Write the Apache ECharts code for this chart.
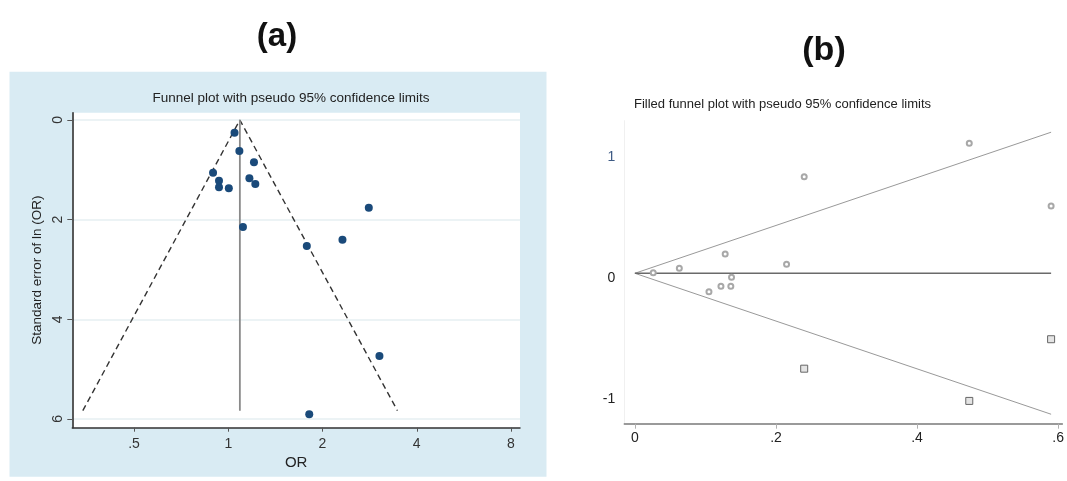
<!DOCTYPE html>
<html>
<head>
<meta charset="utf-8">
<script src="https://cdn.jsdelivr.net/npm/echarts@6/dist/echarts.min.js"></script>
<style>
html,body{margin:0;padding:0;background:#fff;}
#main{width:1067px;height:481px;}
</style>
</head>
<body>
<div id="main"></div>
<script>
// ---------- Panel (a): funnel plot (OR on log2 axis, SE of ln(OR) inverted) ----------
const aOR = [1.047, 1.085, 1.208, 0.894, 0.934, 0.934, 1.004, 1.168, 1.220, 2.811, 1.114, 1.782, 2.316, 3.040, 1.814];
const aSE = [0.255, 0.622, 0.849, 1.058, 1.218, 1.351, 1.371, 1.170, 1.284, 1.760, 2.147, 2.529, 2.402, 4.736, 5.906];
const aPooledOR = 1.089;
const aFunnelLeftOR = 0.343;
const aFunnelRightOR = 3.47;
const aFunnelBottomSE = 5.834;
const aXTicks = [0.5, 1, 2, 4, 8];
const aXTickLabels = ['.5', '1', '2', '4', '8'];
const aYTicks = [0, 2, 4, 6];

// ---------- Panel (b): filled funnel plot (SE on x, effect on y) ----------
const bObsSE  = [0.026, 0.063, 0.128, 0.137, 0.122, 0.136, 0.105, 0.215, 0.240, 0.474, 0.590];
const bObsEff = [0.046, 0.083, 0.200, 0.008, -0.066, -0.066, -0.111, 0.116, 0.838, 1.114, 0.597];
const bFillSE  = [0.240, 0.474, 0.590];
const bFillEff = [-0.746, -1.012, -0.503];
const bTheta = 0.041;
const bLineEndSE = 0.590;
const bUpperEnd = 1.205;
const bLowerEnd = -1.122;
const bXTicks = [0, 0.2, 0.4, 0.6];
const bXTickLabels = ['0', '.2', '.4', '.6'];
const bYTicks = [-1, 0, 1];

const FONT = '"Liberation Sans", Arial, sans-serif';
const near = (v, arr) => arr.findIndex(t => Math.abs(t - v) < 1e-6);

const chart = echarts.init(document.getElementById('main'), null, {renderer: 'canvas'});

const option = {
  backgroundColor: '#ffffff',
  animation: false,
  graphic: [
    {type: 'rect', z: -10, shape: {x: 9.5, y: 71.7, width: 537, height: 405}, style: {fill: '#d9ebf3'}},
    {type: 'text', x: 277, y: 37, style: {text: '(a)', font: 'bold 33px ' + FONT, fill: '#111', align: 'center', verticalAlign: 'middle'}},
    {type: 'text', x: 291, y: 98, style: {text: 'Funnel plot with pseudo 95% confidence limits', font: '13.5px ' + FONT, fill: '#222', align: 'center', verticalAlign: 'middle'}},
    {type: 'text', x: 824, y: 51, style: {text: '(b)', font: 'bold 34px ' + FONT, fill: '#111', align: 'center', verticalAlign: 'middle'}},
    {type: 'text', x: 634, y: 104, style: {text: 'Filled funnel plot with pseudo 95% confidence limits', font: '13px ' + FONT, fill: '#222', align: 'left', verticalAlign: 'middle'}}
  ],
  grid: [
    {left: 72.3, top: 112.7, width: 447.7, height: 315, show: true, backgroundColor: '#ffffff', borderWidth: 0, containLabel: false},
    {left: 624.3, top: 120.7, right: 0, height: 303, show: false, containLabel: false}
  ],
  xAxis: [
    {
      type: 'log', logBase: 2, gridIndex: 0, min: 0.3175, max: 8.548,
      name: 'OR', nameLocation: 'middle', nameGap: 24,
      nameTextStyle: {fontFamily: FONT, fontSize: 15, color: '#222'},
      axisLine: {show: true, onZero: false, lineStyle: {color: '#333', width: 1.5}},
      axisTick: {show: true, inside: false, length: 4, customValues: aXTicks, lineStyle: {color: '#555', width: 1}},
      axisLabel: {
        fontFamily: FONT, fontSize: 14, color: '#333', margin: 9,
        customValues: aXTicks,
        formatter: v => { const i = near(v, aXTicks); return i < 0 ? '' : aXTickLabels[i]; }
      },
      splitLine: {show: false}
    },
    {
      type: 'value', gridIndex: 1, min: -0.015, max: 0.606, splitNumber: 3,
      axisLine: {show: true, onZero: false, lineStyle: {color: '#7a7a7a', width: 1.5}},
      axisTick: {show: true, inside: false, length: 5, customValues: bXTicks, lineStyle: {color: '#b0b0b0', width: 1}},
      axisLabel: {
        fontFamily: FONT, fontSize: 14, color: '#222', margin: 7,
        customValues: bXTicks,
        formatter: v => { const i = near(v, bXTicks); return i < 0 ? '' : bXTickLabels[i]; }
      },
      splitLine: {show: false}
    }
  ],
  yAxis: [
    {
      type: 'value', gridIndex: 0, inverse: true, min: -0.146, max: 6.175, splitNumber: 3,
      name: 'Standard error of ln (OR)', nameLocation: 'middle', nameGap: 28, nameRotate: 90,
      nameTextStyle: {fontFamily: FONT, fontSize: 13.5, color: '#222'},
      axisLine: {show: true, onZero: false, lineStyle: {color: '#222', width: 1.5}},
      axisTick: {show: true, inside: false, length: 5, customValues: aYTicks, lineStyle: {color: '#555', width: 1}},
      axisLabel: {
        fontFamily: FONT, fontSize: 14, color: '#333', margin: 7, rotate: 90,
        customValues: aYTicks,
        formatter: v => near(v, aYTicks) < 0 ? '' : String(v)
      },
      splitLine: {show: true, lineStyle: {color: '#e6eff2', width: 1.5}}
    },
    {
      type: 'value', gridIndex: 1, min: -1.2, max: 1.3,
      axisLine: {show: true, onZero: false, lineStyle: {color: '#f0f0f0', width: 1}},
      axisTick: {show: false},
      axisLabel: {
        fontFamily: FONT, fontSize: 14, margin: 9,
        customValues: bYTicks,
        color: v => (Math.abs(v - 1) < 1e-6 ? '#3d5a84' : '#222'),
        formatter: v => near(v, bYTicks) < 0 ? '' : String(v)
      },
      splitLine: {show: false}
    }
  ],
  series: [
    {
      name: 'pseudo CI', type: 'line', xAxisIndex: 0, yAxisIndex: 0,
      data: [[aFunnelLeftOR, aFunnelBottomSE], [aPooledOR, 0], [aFunnelRightOR, aFunnelBottomSE]],
      symbol: 'none', lineStyle: {color: '#333', width: 1.4, type: [6, 4]}, z: 2
    },
    {
      name: 'pooled', type: 'line', xAxisIndex: 0, yAxisIndex: 0,
      data: [[aPooledOR, 0], [aPooledOR, aFunnelBottomSE]],
      symbol: 'none', lineStyle: {color: '#8a8a8a', width: 1.8}, z: 2
    },
    {
      name: 'studies', type: 'scatter', xAxisIndex: 0, yAxisIndex: 0,
      data: aOR.map((v, i) => [v, aSE[i]]),
      symbol: 'circle', symbolSize: 8, itemStyle: {color: '#1a4a7a', opacity: 1}, z: 3
    },
    {
      name: 'upper', type: 'line', xAxisIndex: 1, yAxisIndex: 1,
      data: [[0, bTheta], [bLineEndSE, bUpperEnd]],
      symbol: 'none', lineStyle: {color: '#999', width: 1}, z: 2
    },
    {
      name: 'lower', type: 'line', xAxisIndex: 1, yAxisIndex: 1,
      data: [[0, bTheta], [bLineEndSE, bLowerEnd]],
      symbol: 'none', lineStyle: {color: '#999', width: 1}, z: 2
    },
    {
      name: 'theta', type: 'line', xAxisIndex: 1, yAxisIndex: 1,
      data: [[0, bTheta], [bLineEndSE, bTheta]],
      symbol: 'none', lineStyle: {color: '#6a6a6a', width: 1.5}, z: 2
    },
    {
      name: 'observed', type: 'scatter', xAxisIndex: 1, yAxisIndex: 1,
      data: bObsSE.map((v, i) => [v, bObsEff[i]]),
      symbol: 'emptyCircle', symbolSize: 5,
      itemStyle: {color: '#a8a8a8', borderWidth: 0.8, opacity: 1}, z: 3
    },
    {
      name: 'filled', type: 'scatter', xAxisIndex: 1, yAxisIndex: 1,
      data: bFillSE.map((v, i) => [v, bFillEff[i]]),
      symbol: 'rect', symbolSize: 7,
      itemStyle: {color: '#e4e4e4', borderColor: '#666', borderWidth: 1, opacity: 1}, z: 3
    }
  ]
};
chart.setOption(option);
</script>
</body>
</html>
